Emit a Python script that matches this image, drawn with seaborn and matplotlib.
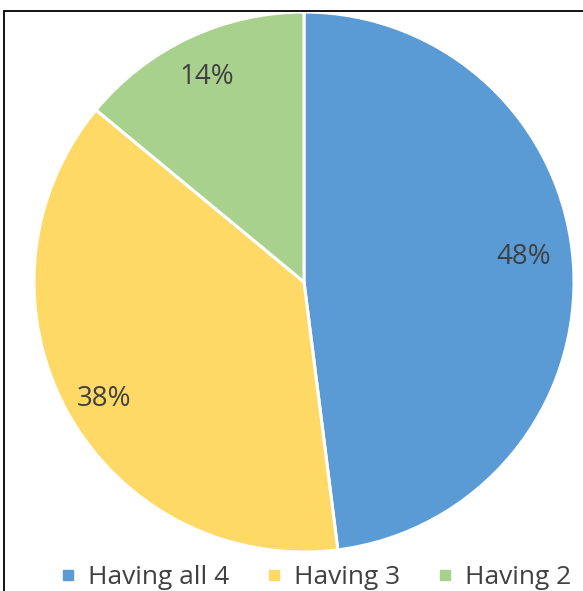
import matplotlib
matplotlib.use("Agg")
import matplotlib.pyplot as plt
from matplotlib.lines import Line2D
from matplotlib.patches import Rectangle
import seaborn as sns

categories = ["Having all 4", "Having 3", "Having 2"]
shares = [48, 38, 14]
colors = ["#5B9BD5", "#FFD966", "#A9D18E"]

sns.set_theme(style="white")
plt.rcParams["font.family"] = ["Open Sans", "DejaVu Sans"]
text_color = "#404040"

W, H = 583, 591
fig = plt.figure(figsize=(W / 100, H / 100), dpi=100)
fig.patch.set_facecolor("white")

# frame around the chart area (open on right and bottom)
fig.patches.append(Rectangle((4 / W, -0.05), 1.2, 1 - 11 / H + 0.05,
                             transform=fig.transFigure, fill=False,
                             edgecolor="black", linewidth=1.3))

cx, cy, r = 304, 282, 270
ax = fig.add_axes([(cx - r) / W, (H - cy - r) / H, 2 * r / W, 2 * r / H])
palette = sns.color_palette(colors)
wedges, texts, autotexts = ax.pie(
    shares, colors=palette, startangle=90, counterclock=False,
    autopct=lambda p: f"{p:.0f}%", pctdistance=0.845, radius=1,
    wedgeprops=dict(edgecolor="white", linewidth=2.2),
    textprops=dict(color=text_color, fontsize=20))
ax.set_xlim(-1, 1)
ax.set_ylim(-1, 1)
ax.set_aspect("auto")
ax.axis("off")

# small label nudges (axis units)
for t, (dx, dy) in zip(autotexts, [(-0.03, 0.04), (0.0, -0.026), (0.0, -0.004)]):
    x0, y0 = t.get_position()
    t.set_position((x0 + dx, y0 + dy))

handles = [Line2D([], [], marker="s", linestyle="", markersize=7.2,
                  markerfacecolor=c, markeredgecolor=c) for c in colors]
fig.legend(handles, categories, loc="center", ncol=3,
           bbox_to_anchor=(317 / W, 13 / H), frameon=False,
           fontsize=19, labelcolor=text_color, handlelength=0.4,
           handletextpad=0.55, columnspacing=1.5, borderpad=0)

fig.savefig("out.png", dpi=100, facecolor="white")
